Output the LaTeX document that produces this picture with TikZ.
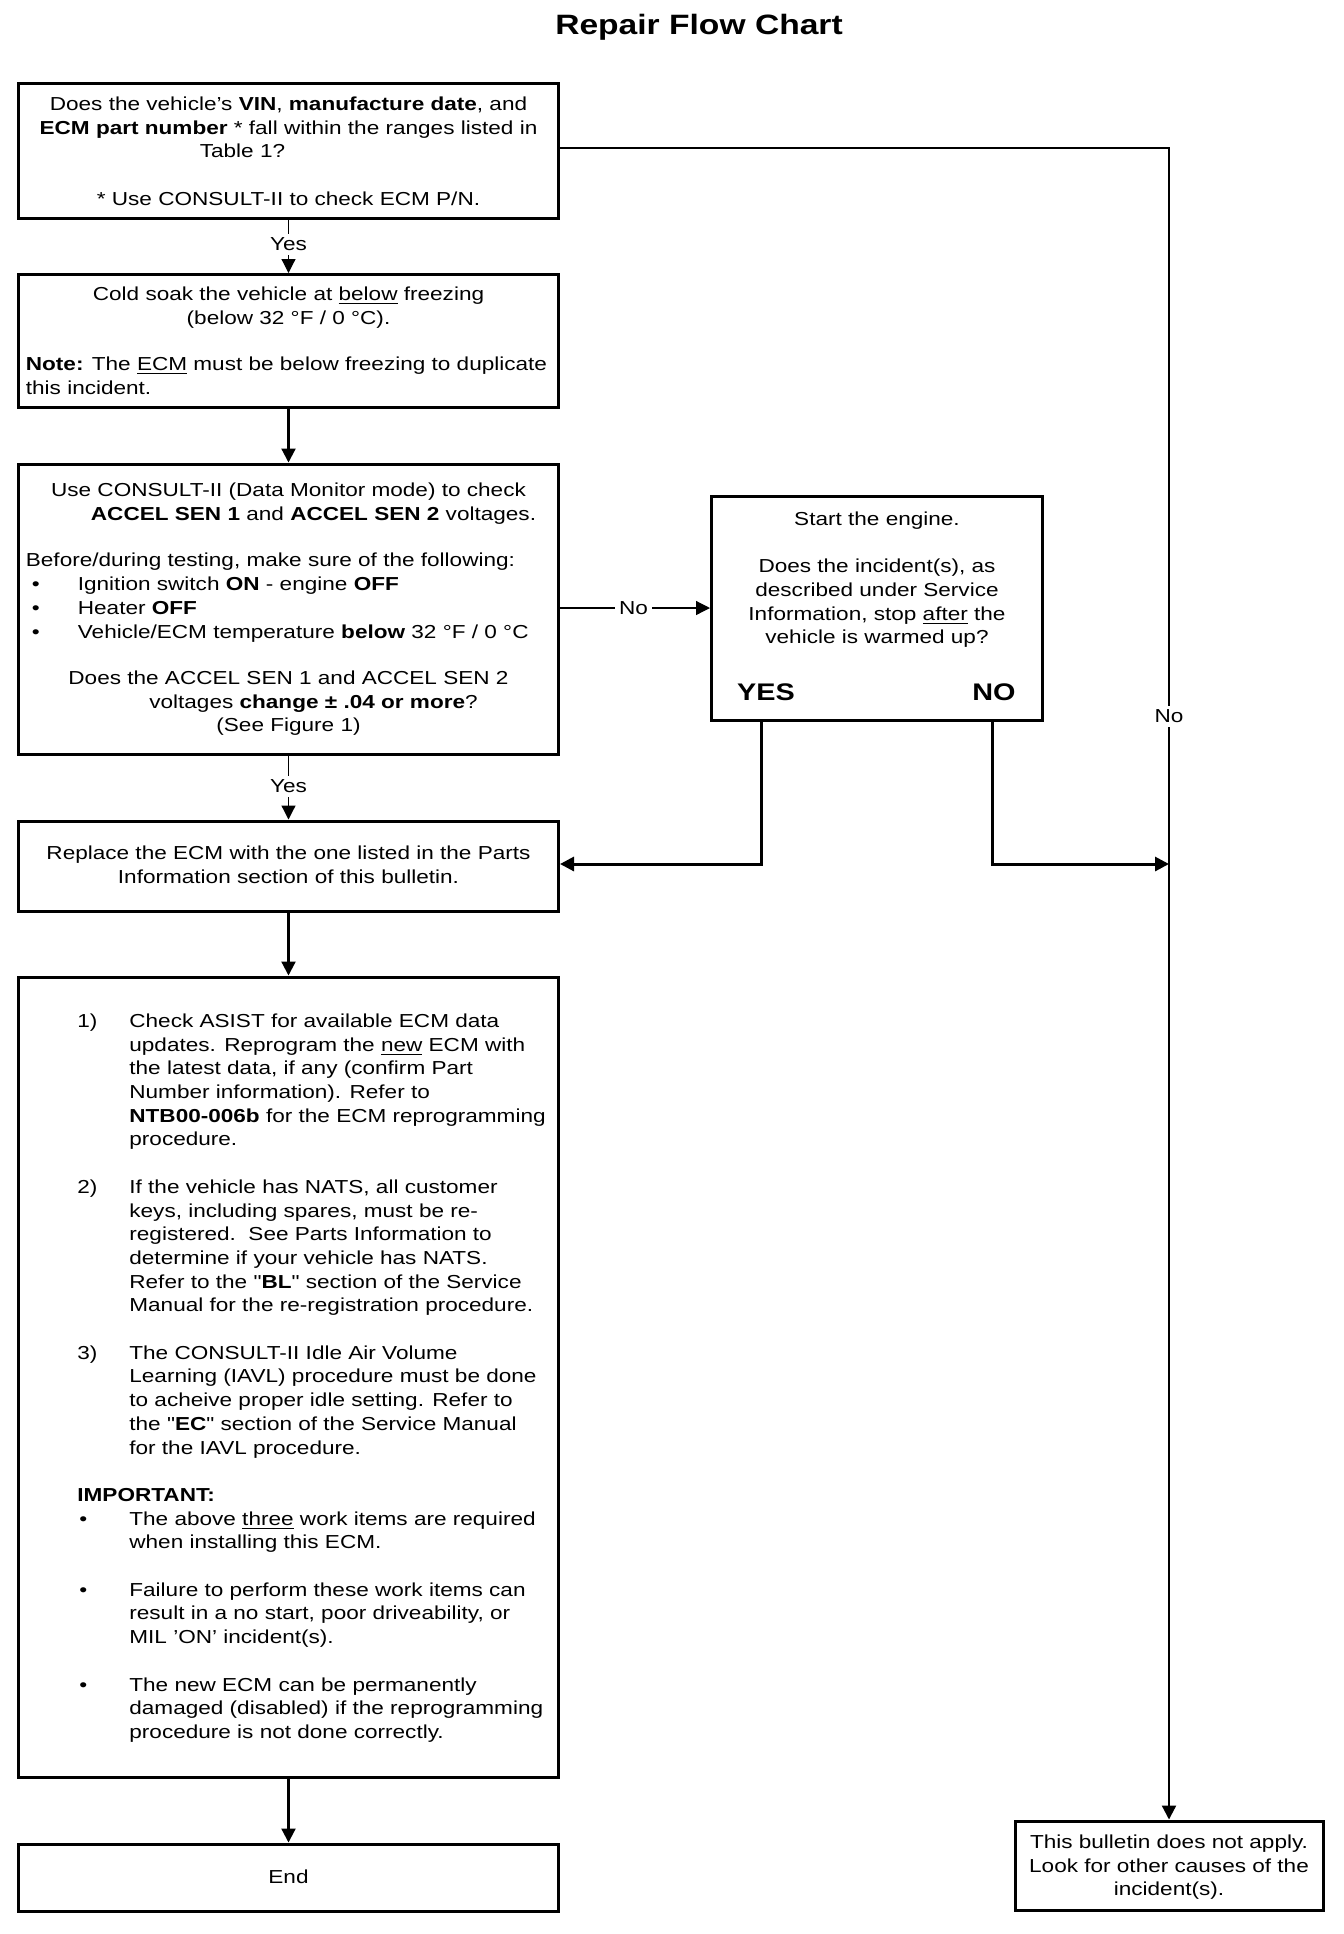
\documentclass[tikz,border=0pt]{standalone}
\usepackage{fontspec}
\setmainfont{Liberation Sans}[FakeStretch=1.2]
\newfontfamily\qf{Liberation Sans}[FakeStretch=1.2]
\usetikzlibrary{arrows.meta}
\newcommand\fst{\rule{0pt}{9pt}}
\newcommand\dq{{\qf"}}
\tikzset{
  box/.style={draw, line width=1.5pt, rectangle, inner sep=0pt, minimum width=270pt},
  txt/.style={font=\fontsize{9.4pt}{11.85pt}\selectfont, inner sep=0pt},
  ctxt/.style={txt, align=center, anchor=north},
  ltxt/.style={txt, align=left, anchor=north west},
  lbl/.style={txt, fill=white, inner sep=2pt},
  tip/.style={-{Triangle[length=7pt,width=7pt]}},
  arr/.style={tip, line width=1.1pt},
  thinarr/.style={tip, line width=0.6pt},
  elbow/.style={tip, line width=1.5pt}
}
\begin{document}
\begin{tikzpicture}[x=0.5pt,y=-0.5pt]
\useasboundingbox (0,0) rectangle (1344,1934);
% title
\node[anchor=base, inner sep=0pt, font=\fontsize{14pt}{16pt}\selectfont\bfseries] (title) at (699,34) {Repair Flow Chart};
% boxes
\node[box, minimum height=67.5pt] (b1) at (288.5,150.5) {};
\node[box, minimum height=66.5pt] (b2) at (288.5,341) {};
\node[box, minimum height=145pt] (b3) at (288.5,609) {};
\node[box, minimum width=165.5pt, minimum height=112pt] (b4) at (877,608) {};
\node[box, minimum height=45pt] (b5) at (288.5,866) {};
\node[box, minimum height=400pt] (b6) at (288.5,1377) {};
\node[box, minimum height=33.5pt] (bend) at (288.5,1877.5) {};
\node[box, minimum width=154pt, minimum height=44.5pt] (b7) at (1169,1865.5) {};
% texts
\node[ctxt] (t1) at (288.5,92) {\fst Does the vehicle's \textbf{VIN}, \textbf{manufacture date}, and\\
\textbf{ECM part number} * fall within the ranges listed in\\
Table 1?\hspace*{46pt}\mbox{}\\[11.85pt]
* Use CONSULT-II to check ECM P/N.};
\node[ctxt] (t2) at (288.5,282) {\fst Cold soak the vehicle at \underline{below} freezing\\
(below 32 °F / 0 °C).};
\node[ltxt] (t2b) at (25.5,352.5) {\fst\textbf{Note:} The \underline{ECM} must be below freezing to duplicate\\
this incident.};
\node[ctxt] (t3) at (288.5,478) {\fst Use CONSULT-II (Data Monitor mode) to check\\
\hspace*{25pt}\textbf{ACCEL SEN 1} and \textbf{ACCEL SEN 2} voltages.};
\node[ltxt] (t3b) at (25.5,548.5) {\fst Before/during testing, make sure of the following:\\
\hspace*{3pt}\makebox[23pt][l]{•}Ignition switch \textbf{ON} - engine \textbf{OFF}\\
\hspace*{3pt}\makebox[23pt][l]{•}Heater \textbf{OFF}\\
\hspace*{3pt}\makebox[23pt][l]{•}Vehicle/ECM temperature \textbf{below} 32 °F / 0 °C};
\node[ctxt] (t3c) at (288.5,666) {\fst Does the ACCEL SEN 1 and ACCEL SEN 2\\
\hspace*{25pt}voltages \textbf{change ± .04 or more}?\\
(See Figure 1)};
\node[ctxt] (t4) at (877,507) {\fst Start the engine.\\[11.85pt]
Does the incident(s), as\\
described under Service\\
Information, stop \underline{after} the\\
vehicle is warmed up?};
\node[anchor=base, inner sep=0pt, font=\fontsize{12pt}{14pt}\selectfont\bfseries] (yes) at (766,700) {YES};
\node[anchor=base, inner sep=0pt, font=\fontsize{12pt}{14pt}\selectfont\bfseries] (no) at (994,700) {NO};
\node[ctxt] (t5) at (288.5,841) {\fst Replace the ECM with the one listed in the Parts\\
Information section of this bulletin.};
\node[ltxt] (t6) at (77,1009) {\fst\makebox[26pt][l]{1)}Check ASIST for available ECM data\\
\hspace*{26pt}updates. Reprogram the \underline{new} ECM with\\
\hspace*{26pt}the latest data, if any (confirm Part\\
\hspace*{26pt}Number information). Refer to\\
\hspace*{26pt}\textbf{NTB00-006b} for the ECM reprogramming\\
\hspace*{26pt}procedure.\\[11.85pt]
\makebox[26pt][l]{2)}If the vehicle has NATS, all customer\\
\hspace*{26pt}keys, including spares, must be re-\\
\hspace*{26pt}registered.\ \ See Parts Information to\\
\hspace*{26pt}determine if your vehicle has NATS.\\
\hspace*{26pt}Refer to the \dq\textbf{BL}\dq{} section of the Service\\
\hspace*{26pt}Manual for the re-registration procedure.\\[11.85pt]
\makebox[26pt][l]{3)}The CONSULT-II Idle Air Volume\\
\hspace*{26pt}Learning (IAVL) procedure must be done\\
\hspace*{26pt}to acheive proper idle setting. Refer to\\
\hspace*{26pt}the \dq\textbf{EC}\dq{} section of the Service Manual\\
\hspace*{26pt}for the IAVL procedure.\\[11.85pt]
\textbf{IMPORTANT:}\\
\makebox[26pt][l]{\hspace*{1pt}•}The above \underline{three} work items are required\\
\hspace*{26pt}when installing this ECM.\\[11.85pt]
\makebox[26pt][l]{\hspace*{1pt}•}Failure to perform these work items can\\
\hspace*{26pt}result in a no start, poor driveability, or\\
\hspace*{26pt}MIL 'ON' incident(s).\\[11.85pt]
\makebox[26pt][l]{\hspace*{1pt}•}The new ECM can be permanently\\
\hspace*{26pt}damaged (disabled) if the reprogramming\\
\hspace*{26pt}procedure is not done correctly.};
\node[txt, anchor=base] (tend) at (288.5,1883) {End};
\node[ctxt] (t7) at (1169,1830) {\fst This bulletin does not apply.\\
Look for other causes of the\\
incident(s).};
% connector coordinates
\coordinate (rtop) at (1169,148);
\coordinate (yesc) at (761.5,864);
\coordinate (noc) at (992,864);
\coordinate (nojoin) at (1169,864);
% connectors
\draw[thinarr] (b1.south) -- node[lbl, pos=0.46] (ly1) {Yes} (b2.north);
\draw[arr] (b2.south) -- (b3.north);
\draw[thinarr] (b4.west -| b3.east) -- node[lbl, pos=0.49] (ln1) {No} (b4.west);
\draw[thinarr] (b3.south) -- node[lbl, pos=0.48] (ly2) {Yes} (b5.north);
\draw[elbow] (b4.south -| yesc) -- (yesc) -- (yesc -| b5.east);
\draw[elbow] (b4.south -| noc) -- (noc) -- (nojoin);
\draw[arr] (b1.east |- rtop) -- (rtop) -- node[lbl, pos=0.34] (ln2) {No} (b7.north);
\draw[arr] (b5.south) -- (b6.north);
\draw[arr] (b6.south) -- (bend.north);
\end{tikzpicture}
\end{document}
